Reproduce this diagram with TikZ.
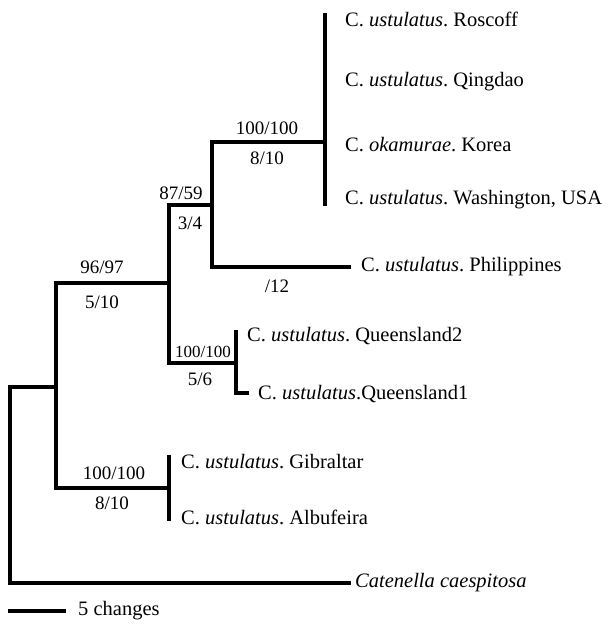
\documentclass[tikz,border=0pt]{standalone}
\usepackage{fontspec}
\setmainfont{Liberation Serif}
\usepackage{tikz}
\usetikzlibrary{positioning}
\frenchspacing
\tikzset{
  br/.style   = {line width=3.6pt, line cap=rect, line join=miter},
  tax/.style  = {anchor=west, inner sep=0pt, font=\fontsize{20.5}{22}\selectfont},
  bs/.style   = {inner sep=0pt, font=\fontsize{19}{21}\selectfont},
  bss/.style  = {inner sep=0pt, font=\fontsize{17}{19}\selectfont},
}
\newcommand{\cus}[1]{C. \textit{ustulatus}. #1}

\begin{document}
\begin{tikzpicture}[x=1pt, y=-1pt]
  \useasboundingbox (0,0) rectangle (609,625);

  % internal nodes
  \coordinate (root) at (10,387);
  \coordinate (nA) at (56,283);
  \coordinate (nB) at (169,205);
  \coordinate (nC) at (212,142);
  \coordinate (nD) at (325,15);
  \coordinate (nE) at (236,332);
  \coordinate (nF) at (169,457);

  % taxa
  \node[tax] (ros) at (345,19) {\cus{Roscoff}};
  \node[tax] (qin) at (345,82) {\cus{Qingdao}};
  \node[tax] (kor) at (345,145) {C. \textit{okamurae}. Korea};
  \node[tax] (was) at (345,200) {\cus{Washington, USA}};
  \node[tax] (phi) at (361,267) {\cus{Philippines}};
  \node[tax] (qu2) at (247,336) {\cus{Queensland2}};
  \node[tax] (qu1) at (258,394) {C. \textit{ustulatus}.Queensland1};
  \node[tax] (gib) at (181,462) {\cus{Gibraltar}};
  \node[tax] (alb) at (181,517) {\cus{Albufeira}};
  \node[tax] (cat) at (355,583) {\textit{Catenella caespitosa}};

  % branches
  \draw[br] (10,583) -- (root) -- (56,387);
  \draw[br] (10,583) -- ([xshift=-6pt]cat.west);
  \draw[br] (nA) -- (56,488) -- (169,488);
  \draw[br] (nA) -- (169,283);
  \draw[br] (nB) -- (169,363) -- (236,363);
  \draw[br] (nB) -- (212,205);
  \draw[br] (nC) -- (212,267) -- ([xshift=-12pt]phi.west);
  \draw[br] (nC) -- (325,142);
  \draw[br] (nD) -- (325,204);
  \draw[br] (nE) -- (236,393) -- (247,393);
  \draw[br] (nF) -- (169,519);

  % support values
  \node[bs] (s1a) at (267,128) {100/100};
  \node[bs] (s1b) at (267,158) {8/10};
  \node[bs] (s2a) at (181,193) {87/59};
  \node[bs] (s2b) at (190,223) {3/4};
  \node[bs] (s3b) at (277,286) {/12};
  \node[bs] (s4a) at (102,267) {96/97};
  \node[bs] (s4b) at (102,302) {5/10};
  \node[bss] (s5a) at (203,352) {100/100};
  \node[bs] (s5b) at (200,379) {5/6};
  \node[bs] (s6a) at (114,473) {100/100};
  \node[bs] (s6b) at (112,503) {8/10};

  % scale bar
  \node[tax] (sc) at (78,611) {5 changes};
  \draw[br] (10,611) -- ([xshift=-14pt]sc.west);
\end{tikzpicture}
\end{document}
